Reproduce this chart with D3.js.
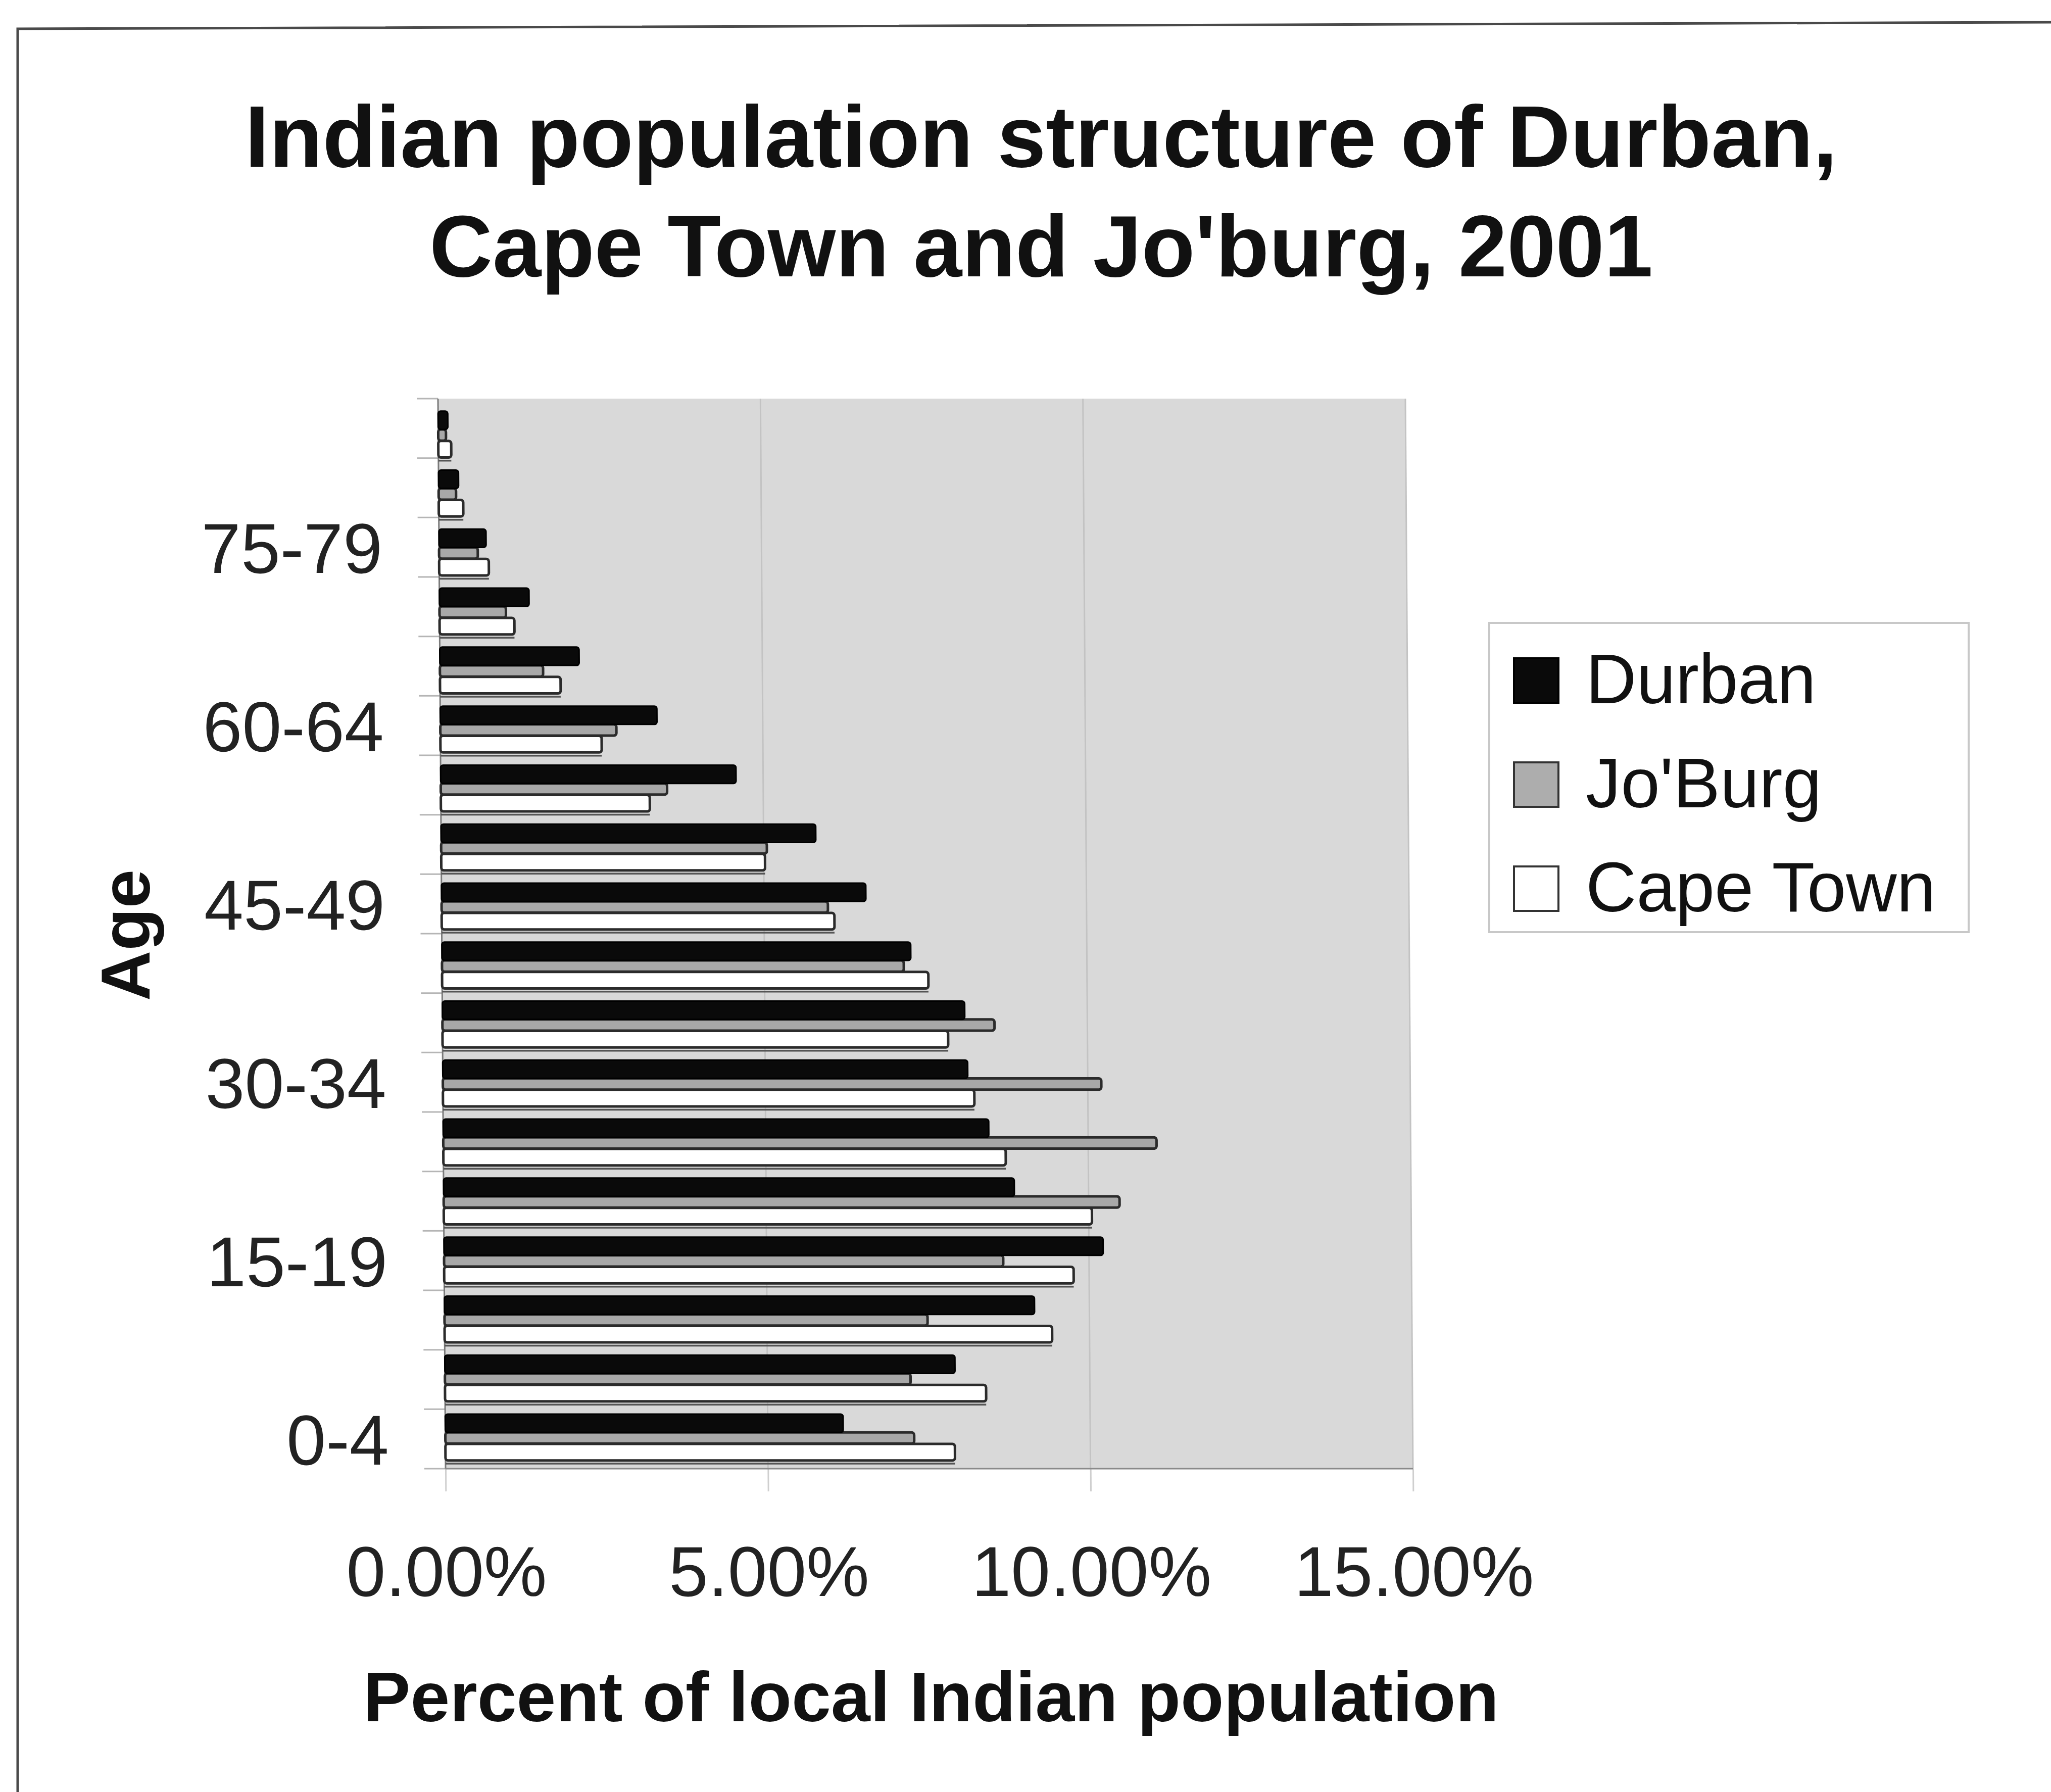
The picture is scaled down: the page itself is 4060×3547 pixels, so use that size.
<!DOCTYPE html>
<html>
<head>
<meta charset="utf-8">
<script src="https://cdn.jsdelivr.net/npm/d3@7"></script>
<style>
  html, body { margin: 0; padding: 0; background: #ffffff; }
  svg { display: block; }
</style>
</head>
<body>
<script>
// Age groups, youngest first
const ages = ["0-4", "5-9", "10-14", "15-19", "20-24", "25-29", "30-34", "35-39", "40-44",
              "45-49", "50-54", "55-59", "60-64", "65-69", "70-74", "75-79", "80-84", "85+"];

// Share of each city's Indian population in each age group (%)
const durban   = [6.17, 7.91, 9.15, 10.22, 8.85, 8.46, 8.14, 8.10, 7.27,
                  6.58, 5.81, 4.58, 3.36, 2.16, 1.39, 0.73, 0.31, 0.15];
const joburg   = [7.27, 7.22, 7.49, 8.67, 10.48, 11.06, 10.21, 8.56, 7.16,
                  5.99, 5.05, 3.51, 2.73, 1.60, 1.03, 0.60, 0.27, 0.12];
const capeTown = [7.90, 8.39, 9.42, 9.76, 10.05, 8.72, 8.24, 7.84, 7.54,
                  6.09, 5.02, 3.24, 2.50, 1.87, 1.16, 0.77, 0.38, 0.20];

const seriesNames = ["Durban", "Jo'Burg", "Cape Town"];
const xTicks = [0, 5, 10, 15];
const ageTickLabels = ["0-4", "15-19", "30-34", "45-49", "60-64", "75-79"];

const titleLines = ["Indian population structure of Durban,", "Cape Town and Jo'burg, 2001"];
const xTitle = "Percent of local Indian population";
const yTitle = "Age";

const FONT = "'Liberation Sans', Arial, Helvetica, sans-serif";

const svg = d3.select("body").append("svg")
  .attr("width", 4060).attr("height", 3547);

svg.append("rect").attr("width", 4060).attr("height", 3547).attr("fill", "#ffffff");

// outer frame
svg.append("path")
  .attr("d", "M35,3547 L35,57 L4060,44")
  .attr("fill", "none").attr("stroke", "#4a4a4a").attr("stroke-width", 5);

// title
svg.append("g").selectAll("text").data(titleLines).join("text")
  .attr("x", 2061)
  .attr("y", (d, i) => 330 + i * 217)
  .attr("text-anchor", "middle")
  .attr("font-family", FONT).attr("font-weight", "bold").attr("font-size", 173)
  .attr("fill", "#111")
  .text(d => d);

// plot area (slight 3-D lean: top edge sits a little left of the bottom edge)
const W = 1915, H = 2118;
const outer = svg.append("g").attr("transform", "translate(882,2907) skewX(0.406)");
const g = outer.append("g").attr("transform", `translate(0,${-H})`);

const topDown = ages.slice().reverse();
const x = d3.scaleLinear().domain([0, 15]).range([0, W]);
const yWall = d3.scaleBand().domain(topDown).range([0, H]);
const yBar = d3.scaleBand().domain(topDown).range([16, H]);

// back wall
g.append("rect").attr("x", 0).attr("y", 0).attr("width", W).attr("height", H)
  .attr("fill", "#d9d9d9");

// vertical gridlines
g.append("g").selectAll("line").data(xTicks.filter(t => t > 0)).join("line")
  .attr("x1", d => x(d)).attr("x2", d => x(d))
  .attr("y1", 0).attr("y2", H)
  .attr("stroke", "#c3c3c3").attr("stroke-width", 3);

// x axis
const xAxis = g.append("g").attr("transform", `translate(0,${H})`)
  .call(d3.axisBottom(x).tickValues(xTicks).tickSize(45).tickPadding(108)
        .tickFormat(d => d3.format(".2f")(d) + "%"));
xAxis.select(".domain").remove();
xAxis.selectAll(".tick line").attr("stroke", "#cfcfcf").attr("stroke-width", 3);
xAxis.selectAll("text")
  .attr("font-family", FONT).attr("font-size", 140).attr("fill", "#222");

// y axis: labels on every third age group, ticks on every group boundary
const yAxis = g.append("g")
  .call(d3.axisLeft(yWall).tickValues(ageTickLabels).tickSize(0).tickPadding(112));
yAxis.select(".domain").remove();
yAxis.selectAll("text")
  .attr("font-family", FONT).attr("font-size", 140).attr("fill", "#222")
  .attr("dy", "0.36em");

g.append("g").selectAll("line").data(d3.range(ages.length + 1)).join("line")
  .attr("x1", -42).attr("x2", 0)
  .attr("y1", i => i * yWall.step()).attr("y2", i => i * yWall.step())
  .attr("stroke", "#b5b5b5").attr("stroke-width", 3);

// axis lines
g.append("line").attr("x1", 0).attr("x2", 0).attr("y1", 0).attr("y2", H)
  .attr("stroke", "#7a7a7a").attr("stroke-width", 3);
g.append("line").attr("x1", 0).attr("x2", W).attr("y1", H).attr("y2", H)
  .attr("stroke", "#8a8a8a").attr("stroke-width", 3);

// bars
const rows = ages.map((a, i) => ({ age: a, d: durban[i], j: joburg[i], c: capeTown[i] }));
const s = yBar.step();
const bands = {
  d: [0.075, 0.385],
  j: [0.385, 0.575],
  c: [0.580, 0.860]
};
const barG = g.append("g");
const grp = barG.selectAll("g").data(rows).join("g")
  .attr("transform", r => `translate(0,${yBar(r.age)})`);

// lower edge of the Cape Town bar
grp.append("line")
  .attr("x1", 0).attr("x2", r => x(r.c))
  .attr("y1", 0.915 * s).attr("y2", 0.915 * s)
  .attr("stroke", "#555").attr("stroke-width", 3.5);

grp.append("rect")
  .attr("x", 0).attr("y", bands.c[0] * s)
  .attr("width", r => x(r.c)).attr("height", (bands.c[1] - bands.c[0]) * s)
  .attr("rx", 5)
  .attr("fill", "#ffffff").attr("stroke", "#2b2b2b").attr("stroke-width", 5);

grp.append("rect")
  .attr("x", 0).attr("y", bands.j[0] * s)
  .attr("width", r => x(r.j)).attr("height", (bands.j[1] - bands.j[0]) * s)
  .attr("rx", 5)
  .attr("fill", "#a8a8a8").attr("stroke", "#2b2b2b").attr("stroke-width", 5);

grp.append("rect")
  .attr("x", 0).attr("y", bands.d[0] * s)
  .attr("width", r => x(r.d)).attr("height", (bands.d[1] - bands.d[0]) * s)
  .attr("rx", 5)
  .attr("fill", "#0a0a0a").attr("stroke", "#000").attr("stroke-width", 3);

// axis titles
svg.append("text")
  .attr("x", 1843).attr("y", 3407)
  .attr("text-anchor", "middle")
  .attr("font-family", FONT).attr("font-weight", "bold").attr("font-size", 140)
  .attr("fill", "#111")
  .text(xTitle);

svg.append("text")
  .attr("transform", "translate(296,1851) rotate(-90)")
  .attr("text-anchor", "middle")
  .attr("font-family", FONT).attr("font-weight", "bold").attr("font-size", 138)
  .attr("fill", "#111")
  .text(yTitle);

// legend
const legend = svg.append("g");
legend.append("rect")
  .attr("x", 2948).attr("y", 1233).attr("width", 949).attr("height", 612)
  .attr("fill", "#ffffff").attr("stroke", "#c8c8c8").attr("stroke-width", 4);

const swatchFill = ["#0a0a0a", "#adadad", "#ffffff"];
const item = legend.selectAll("g.item").data(seriesNames).join("g")
  .attr("class", "item")
  .attr("transform", (d, i) => `translate(0,${i * 206})`);
item.append("rect")
  .attr("x", 2997).attr("y", 1303).attr("width", 88).attr("height", 88)
  .attr("fill", (d, i) => swatchFill[i])
  .attr("stroke", (d, i) => i === 0 ? "#000" : "#333").attr("stroke-width", 4);
item.append("text")
  .attr("x", 3139).attr("y", 1392)
  .attr("font-family", FONT).attr("font-size", 139).attr("fill", "#111")
  .text(d => d);
</script>
</body>
</html>
